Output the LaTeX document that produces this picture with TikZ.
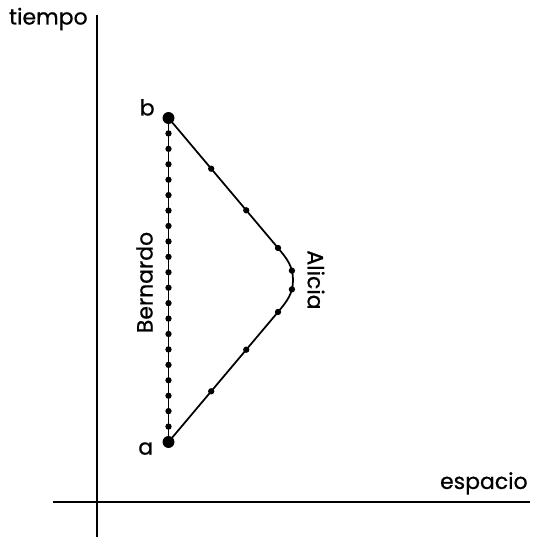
\documentclass[tikz,border=0pt]{standalone}
\usepackage{fontspec}
\setmainfont{Poppins}[FakeBold=0.8]
\usetikzlibrary{calc,positioning}

\tikzset{
  axis/.style={line width=1.3pt},
  worldline/.style={line width=1pt},
  lbl/.style={font=\fontsize{12.5}{15}\selectfont, inner sep=0pt},
}

\begin{document}
\begin{tikzpicture}
  \useasboundingbox (-1.94,-0.70) rectangle (8.80,10.04);
  % ejes
  \draw[axis] (0,-0.70) -- (0,9.74);
  \draw[axis] (-0.88,0) -- (8.66,0);
  \node[lbl, anchor=east] (tiempo) at (-0.18,9.66) {tiempo};
  \node[lbl, anchor=south east] (espacio) at (8.62,0.14) {espacio};
  % sucesos
  \coordinate (a) at (1.43,1.20);
  \coordinate (b) at (1.43,7.68);
  \coordinate (p1) at (3.62,5.08);
  \coordinate (c) at (3.92,4.44);
  \coordinate (p2) at (3.62,3.80);
  \node[lbl, above left=0.04cm and 0.27cm of b] (lb) {b};
  \node[lbl, below left=0cm and 0.3cm of a] (la) {a};
  % Bernardo
  \draw[line width=0.8pt] (a) -- (b);
  \foreach \i in {1,...,20}
    \fill ($(a)!\i/21!(b)$) circle (1.8pt);
  \node[lbl, rotate=90] (bernardo) at (0.95,4.39) {Bernardo};
  % Alicia
  \draw[worldline] (b) -- coordinate[pos=0.39] (t1) coordinate[pos=0.71] (t2) (p1)
    to[out=-50,in=90] coordinate[pos=0.75] (t3) (c)
    to[out=-90,in=50] coordinate[pos=0.25] (t4) (p2)
    -- coordinate[pos=0.29] (t5) coordinate[pos=0.61] (t6) (a);
  \foreach \t in {t1,t2,p1,t3,t4,p2,t5,t6}
    \fill (\t) circle (1.8pt);
  \node[lbl, rotate=-90] (alicia) at (4.38,4.44) {Alicia};
  \fill (a) circle (3.4pt);
  \fill (b) circle (3.4pt);
\end{tikzpicture}
\end{document}
